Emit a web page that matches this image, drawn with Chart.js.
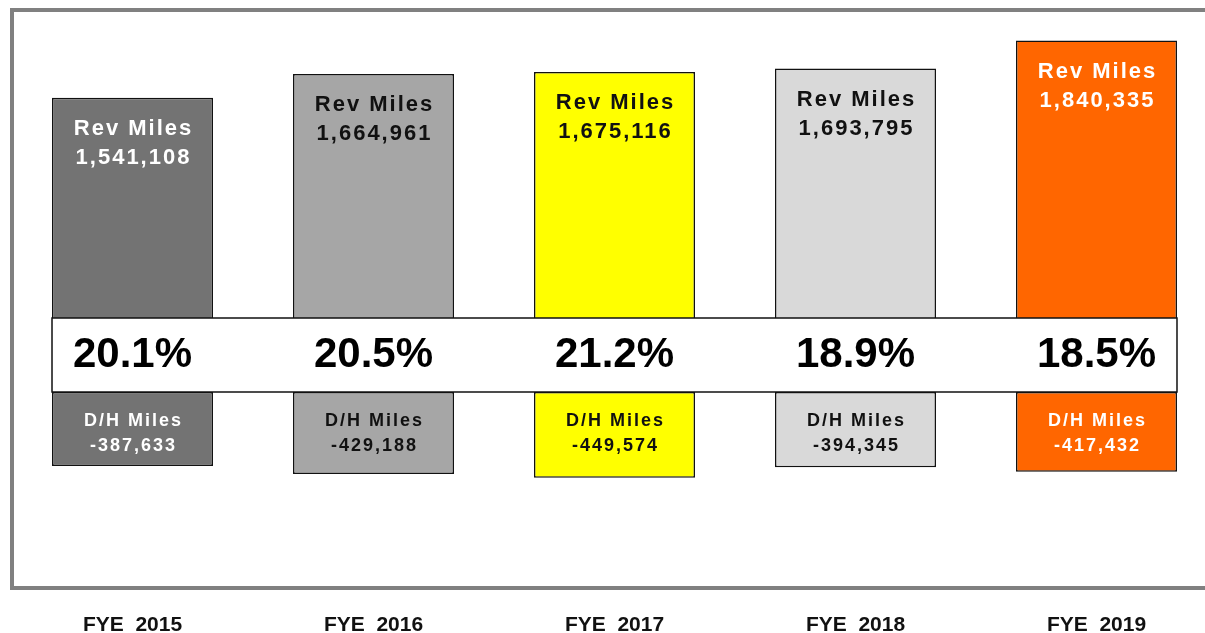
<!DOCTYPE html>
<html>
<head>
<meta charset="utf-8">
<script src="https://cdn.jsdelivr.net/npm/chart.js@4"></script>
<style>
    html, body { margin: 0; padding: 0; background: #fff; overflow: hidden; }
    #wrap { width: 1205px; height: 633px; overflow: hidden; }
</style>
</head>
<body>
<div id="wrap"><canvas id="miles-chart" width="1230" height="633"></canvas></div>
<script>
const years = ['FYE  2015', 'FYE  2016', 'FYE  2017', 'FYE  2018', 'FYE  2019']
const revMiles = [1541108, 1664961, 1675116, 1693795, 1840335]
const dhMiles = [-387633, -429188, -449574, -394345, -417432]
const dhPercent = [20.1, 20.5, 21.2, 18.9, 18.5]

// fill and text colour for each year
const barColors = ['#737373', '#a6a6a6', '#ffff00', '#d9d9d9', '#ff6600']
const textColors = ['#ffffff', '#111111', '#111111', '#111111', '#ffffff']

const FONT = 'Arial, "Liberation Sans", sans-serif'

function fmt(n) {
    return n.toLocaleString('en-US')
}

// grey frame round the plot
const framePlugin = {
    id: 'frame',
    beforeDatasetsDraw(chart) {
        const a = chart.chartArea
        const ctx = chart.ctx
        ctx.save()
        ctx.strokeStyle = '#808080'
        ctx.lineWidth = 4
        ctx.strokeRect(a.left, a.top, chart.width, a.bottom - a.top + 5)
        ctx.restore()
    }
}

// white band with the percentages, and the texts inside the bars
const labelPlugin = {
    id: 'labels',
    afterDatasetsDraw(chart) {
        const ctx = chart.ctx
        const rev = chart.getDatasetMeta(0).data
        const dh = chart.getDatasetMeta(1).data
        const zero = chart.scales.y.getPixelForValue(0)
        const first = rev[0], last = rev[rev.length - 1]
        const left = first.x - first.width / 2
        const right = last.x + last.width / 2

        ctx.save()
        ctx.fillStyle = '#ffffff'
        ctx.fillRect(left, zero - 74, right - left, 74)
        ctx.strokeStyle = '#111'
        ctx.lineWidth = 1.5
        ctx.strokeRect(left, zero - 74, right - left, 74)

        ctx.textAlign = 'center'
        ctx.textBaseline = 'middle'

        for (var i = 0; i < rev.length; i++) {
            var bar = rev[i]

            ctx.letterSpacing = '0px'
            ctx.fillStyle = '#000'
            ctx.font = 'bold 42px ' + FONT
            ctx.fillText(dhPercent[i].toFixed(1) + '%', bar.x, zero - 37)

            ctx.letterSpacing = '2px'
            ctx.fillStyle = textColors[i]
            ctx.font = 'bold 22px ' + FONT
            ctx.fillText('Rev Miles', bar.x + 1, bar.y + 31)
            ctx.fillText(fmt(revMiles[i]), bar.x + 1, bar.y + 60)

            ctx.font = 'bold 18px ' + FONT
            ctx.fillText('D/H Miles', bar.x + 1, dh[i].base + 29)
            ctx.fillText(fmt(dhMiles[i]), bar.x + 1, dh[i].base + 54)
        }
        ctx.restore()
    }
}

var ctx = document.getElementById('miles-chart').getContext('2d')
var chart = new Chart(ctx, {
    type: 'bar',
    data: {
        labels: years,
        datasets: [{
            label: 'Rev Miles',
            data: revMiles,
            backgroundColor: barColors,
            borderColor: '#111',
            borderWidth: 1.5,
            borderSkipped: false
        }, {
            label: 'D/H Miles',
            data: dhMiles,
            backgroundColor: barColors,
            borderColor: '#111',
            borderWidth: 1.5,
            borderSkipped: false
        }]
    },
    options: {
        responsive: false,
        animation: false,
        layout: {
            padding: { left: 12, right: 13, top: 10, bottom: 1 }
        },
        datasets: {
            bar: { categoryPercentage: 1, barPercentage: 0.668 }
        },
        scales: {
            x: {
                stacked: true,
                grid: { display: false, drawTicks: false },
                border: { display: false },
                afterFit: function (scale) {
                    scale.height = 49
                },
                ticks: {
                    padding: 30,
                    color: '#111',
                    font: { family: FONT, size: 21, weight: 'bold' }
                }
            },
            y: {
                stacked: true,
                display: false,
                min: -1000000,
                max: 2000000
            }
        },
        plugins: {
            legend: { display: false },
            tooltip: { enabled: false }
        }
    },
    plugins: [framePlugin, labelPlugin]
})
</script>
</body>
</html>
